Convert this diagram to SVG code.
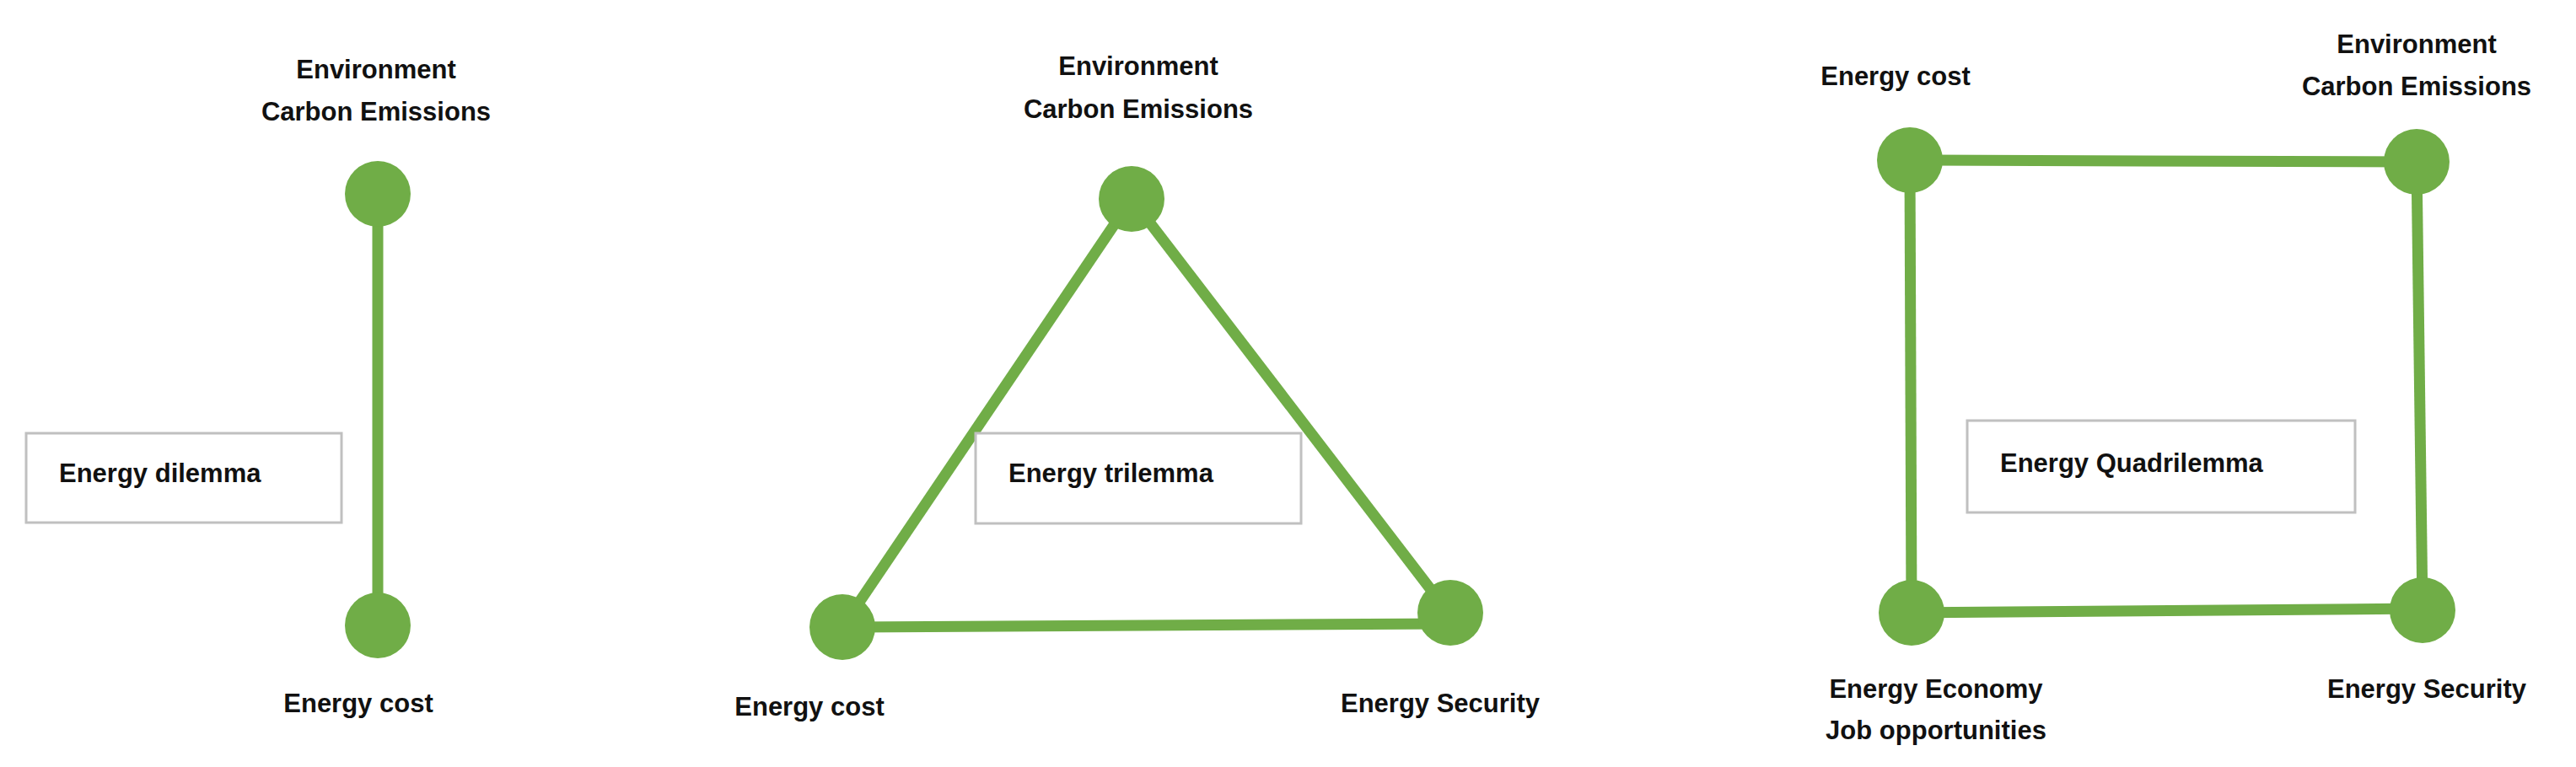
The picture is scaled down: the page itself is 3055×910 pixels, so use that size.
<svg xmlns="http://www.w3.org/2000/svg" width="3055" height="910" viewBox="0 0 3055 910">
<style>
text{font-family:"Liberation Sans",Arial,sans-serif;font-weight:bold;font-size:31px;fill:#111;dominant-baseline:central}
.c{text-anchor:middle}
.n{fill:#70AD47}
.e{stroke:#70AD47;stroke-width:13;fill:none}
.b{fill:#fff;stroke:#c0c0c0;stroke-width:3}
</style>
<rect width="3055" height="910" fill="#fff"/>
<g id="connectors">
<line class="e" x1="448" y1="230" x2="448" y2="742"/>
<line class="e" x1="1342" y1="236" x2="999" y2="744"/>
<line class="e" x1="1342" y1="236" x2="1718" y2="727"/>
<line class="e" x1="999" y1="744" x2="1718" y2="740"/>
<line class="e" x1="2265" y1="190" x2="2866" y2="192"/>
<line class="e" x1="2265" y1="190" x2="2267" y2="727"/>
<line class="e" x1="2866" y1="192" x2="2873" y2="724"/>
<line class="e" x1="2267" y1="727" x2="2873" y2="722"/>
</g>
<g id="dilemma-box"><rect class="b" x="31" y="514" width="374" height="106"/><text x="70" y="561">Energy dilemma</text></g>
<g id="d-env"><circle class="n" cx="448" cy="230" r="39"/><text class="c" x="446" y="82">Environment</text><text class="c" x="446" y="132">Carbon Emissions</text></g>
<g id="d-cost"><circle class="n" cx="448" cy="742" r="39"/><text class="c" x="425" y="834">Energy cost</text></g>
<g id="trilemma-box"><rect class="b" x="1157" y="514" width="386" height="107"/><text x="1196" y="561">Energy trilemma</text></g>
<g id="t-env"><circle class="n" cx="1342" cy="236" r="39"/><text class="c" x="1350" y="78">Environment</text><text class="c" x="1350" y="129">Carbon Emissions</text></g>
<g id="t-cost"><circle class="n" cx="999" cy="744" r="39"/><text class="c" x="960" y="838">Energy cost</text></g>
<g id="t-sec"><circle class="n" cx="1720" cy="727" r="39"/><text class="c" x="1708" y="834">Energy Security</text></g>
<g id="quad-box"><rect class="b" x="2333" y="499" width="460" height="109"/><text x="2372" y="549">Energy Quadrilemma</text></g>
<g id="q-cost"><circle class="n" cx="2265" cy="190" r="39"/><text class="c" x="2248" y="90">Energy cost</text></g>
<g id="q-env"><circle class="n" cx="2866" cy="192" r="39"/><text class="c" x="2866" y="52">Environment</text><text class="c" x="2866" y="102">Carbon Emissions</text></g>
<g id="q-econ"><circle class="n" cx="2267" cy="727" r="39"/><text class="c" x="2296" y="817">Energy Economy</text><text class="c" x="2296" y="866">Job opportunities</text></g>
<g id="q-sec"><circle class="n" cx="2873" cy="724" r="39"/><text class="c" x="2878" y="817">Energy Security</text></g>
</svg>
